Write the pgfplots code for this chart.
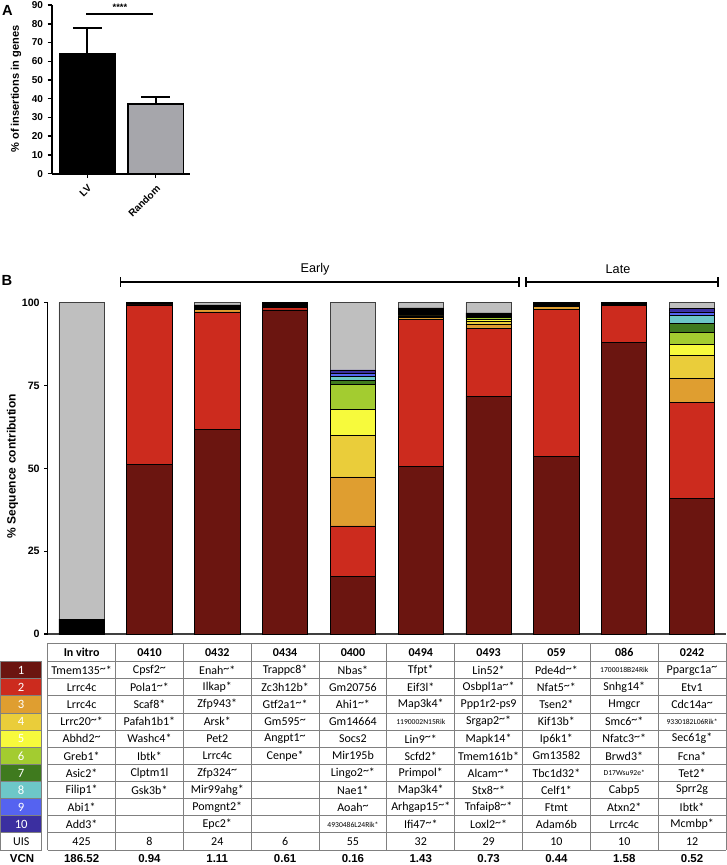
\documentclass[border=0pt]{standalone}
\usepackage{pgfplots}
\pgfplotsset{compat=1.18}
\usepackage{pgfplotstable}
\usepackage{fontspec}
\setmainfont{Liberation Sans}
\newfontfamily\calfont{Carlito}
\newcommand\tl{\raisebox{0.18em}{\textasciitilde}}
\newcommand\sm[1]{{\fontsize{5.7}{6}\selectfont #1}}
\definecolor{c1}{HTML}{6B1510}
\definecolor{c2}{HTML}{CC2B1E}
\definecolor{c3}{HTML}{DF9E30}
\definecolor{c4}{HTML}{EACD3A}
\definecolor{c5}{HTML}{F7FA3C}
\definecolor{c6}{HTML}{A3CC30}
\definecolor{c7}{HTML}{3F7A1E}
\definecolor{c8}{HTML}{6DC7C8}
\definecolor{c9}{HTML}{5563F0}
\definecolor{c10}{HTML}{3B2FA0}
\definecolor{cg}{HTML}{BFBFBF}
\definecolor{rnd}{HTML}{A6A6AB}
\definecolor{tline}{HTML}{808080}
\definecolor{axgray}{HTML}{404040}

\pgfplotstableread{
x s1 s2 s3 s4 s5 s6 s7 s8 s9 s10 k g
0 0 0 0 0 0 0 0 0 0 0 4.5 95.5
1 51.3 48.0 0 0 0 0 0 0 0 0 0.7 0
2 61.8 35.4 0.8 0 0 0 0 0 0 0 1.3 0.7
3 97.8 0.8 0 0 0 0 0 0 0 0 1.4 0
4 17.5 15.1 14.8 12.4 8.0 7.5 1.2 1.2 1.0 1.0 0 20.3
5 50.5 44.5 0.5 0.5 0 0 0 0 0 0 2.4 1.6
6 71.8 20.3 1.2 1.0 0.6 0.6 0 0 0 0 1.4 3.1
7 53.6 44.4 0.8 0 0 0 0 0 0 0 1.2 0
8 88.0 11.1 0 0 0 0 0 0 0 0 0.9 0
9 40.8 29.1 7.1 7.0 3.5 3.5 2.6 2.5 1.1 1.0 0 1.8
}\stacked

\newcommand\tcol[2]{\foreach \t [count=\r] in {#2} \node[font=\calfont\fontsize{9}{10}\selectfont, inner sep=0pt] at ({47.7+67.83*(#1+0.5)},{661.7+17.12*(\r-0.5)}) {\t};}

\begin{document}
\begin{tikzpicture}
% ---------- Panel A ----------
\begin{axis}[
 at={(38.775pt,-130.275pt)}, anchor=south west,
 scale only axis, width=103.7pt, height=126.5pt,
 xmin=-0.52, xmax=1.5, ymin=0, ymax=90, clip=false,
 axis x line=bottom, axis y line=left,
 axis line style={-, line width=1.3pt, black},
 ytick={0,10,...,90}, xtick={0,1}, xticklabels={LV,Random},
 tick align=outside, major tick length=3pt, tick style={line width=1.1pt, black},
 yticklabel style={font=\bfseries\fontsize{7.5}{8}\selectfont},
 xticklabel style={font=\bfseries\fontsize{7.5}{8}\selectfont, rotate=45, anchor=north east},
 /pgf/number format/assume math mode=true,
 ybar, bar width=41.5pt,
]
\addplot[bar shift=0pt, fill=black, draw=black, line width=1.3pt,
 error bars/.cd, y dir=plus, y explicit,
 error bar style={line width=1.2pt, black},
 error mark options={rotate=90, mark size=10.9pt, line width=1.2pt, black}]
 coordinates {(0,64.0) +- (0,13.7)};
\addplot[bar shift=0pt, fill=rnd, draw=black, line width=1.3pt,
 error bars/.cd, y dir=plus, y explicit,
 error bar style={line width=1.2pt, black},
 error mark options={rotate=90, mark size=10.9pt, line width=1.2pt, black}]
 coordinates {(1,37.2) +- (0,3.8)};
\end{axis}
% ---------- Panel B ----------
\begin{axis}[
 at={(35.775pt,-475.5pt)}, anchor=south west,
 scale only axis, width=508.7pt, height=248.5pt,
 xmin=-0.5, xmax=9.5, ymin=0, ymax=100, clip=false,
 axis x line=bottom, axis y line=left,
 x axis line style={-, line width=1.4pt, color=axgray},
 y axis line style={-, line width=1.1pt, black},
 xtick=\empty, ytick={0,25,50,75,100},
 tick align=outside, major tick length=2.5pt, tick style={line width=1pt, black},
 yticklabel style={font=\bfseries\fontsize{8}{9}\selectfont},
 /pgf/number format/assume math mode=true,
 ybar stacked, bar width=34pt,
]
\addplot[fill=c1, draw=black, line width=0.6pt] table[x=x,y=s1]{\stacked};
\addplot[fill=c2, draw=black, line width=0.6pt] table[x=x,y=s2]{\stacked};
\addplot[fill=c3, draw=black, line width=0.6pt] table[x=x,y=s3]{\stacked};
\addplot[fill=c4, draw=black, line width=0.6pt] table[x=x,y=s4]{\stacked};
\addplot[fill=c5, draw=black, line width=0.6pt] table[x=x,y=s5]{\stacked};
\addplot[fill=c6, draw=black, line width=0.6pt] table[x=x,y=s6]{\stacked};
\addplot[fill=c7, draw=black, line width=0.6pt] table[x=x,y=s7]{\stacked};
\addplot[fill=c8, draw=black, line width=0.6pt] table[x=x,y=s8]{\stacked};
\addplot[fill=c9, draw=black, line width=0.6pt] table[x=x,y=s9]{\stacked};
\addplot[fill=c10, draw=black, line width=0.6pt] table[x=x,y=s10]{\stacked};
\addplot[fill=black, draw=black, line width=0.6pt] table[x=x,y=k]{\stacked};
\addplot[fill=cg, draw=axgray, line width=0.6pt] table[x=x,y=g]{\stacked};
\end{axis}

\begin{scope}[x=0.75pt,y=-0.75pt]
% panel labels
\node[font=\bfseries\fontsize{11}{12}\selectfont] at (7.5,10) {A};
\node[font=\bfseries\fontsize{11}{12}\selectfont] at (7,280) {B};
\node[rotate=90, font=\bfseries\fontsize{8.3}{9}\selectfont] at (16,89) {\% of insertions in genes};
\node[rotate=90, font=\bfseries\fontsize{9}{10}\selectfont] at (12.5,466) {\% Sequence contribution};
% significance
\draw[line width=1.2pt] (86,13.7) -- (153,13.7);
\node[font=\bfseries\fontsize{7}{8}\selectfont, inner sep=0pt] at (120,7) {****};
% Early / Late brackets
\draw[line width=1.4pt] (120.5,281.7) -- (519,281.7);
\draw[line width=1.4pt] (120.5,277) -- (120.5,286.5);
\draw[line width=1.4pt] (519,277) -- (519,286.5);
\draw[line width=1.4pt] (526,281.7) -- (717.6,281.7);
\draw[line width=1.4pt] (526,277) -- (526,286.5);
\draw[line width=1.4pt] (717.6,277) -- (717.6,286.5);
\node[font=\fontsize{9.5}{11}\selectfont] at (315,269) {Early};
\node[font=\fontsize{9.5}{11}\selectfont] at (618,269) {Late};
% legend column
\foreach \i/\c in {1/c1,2/c2,3/c3,4/c4,5/c5,6/c6,7/c7,8/c8,9/c9,10/c10} {
  \draw[tline, fill=\c, line width=0.7pt] (0.8,{661.7+17.12*(\i-1)}) rectangle (41.7,{661.7+17.12*\i});
  \node[white, font=\calfont\fontsize{9.5}{10}\selectfont, inner sep=0pt] at (21.2,{661.7+17.12*(\i-0.5)}) {\i};
}
\draw[tline, line width=0.7pt] (0.8,{661.7+17.12*10}) rectangle (41.7,{661.7+17.12*11});
\node[font=\calfont\fontsize{9}{10}\selectfont, inner sep=0pt] at (21.2,{661.7+17.12*10.5}) {UIS};
% table grid
\draw[tline, line width=0.7pt] (47.7,643.3) -- (726,643.3);
\foreach \r in {0,...,11} \draw[tline, line width=0.7pt] (47.7,{661.7+17.12*\r}) -- (726,{661.7+17.12*\r});
\foreach \k in {0,...,10} \draw[tline, line width=0.7pt] ({47.7+67.83*\k},643.3) -- ({47.7+67.83*\k},850);
% headers
\foreach \h [count=\c from 0] in {In vitro,0410,0432,0434,0400,0494,0493,059,086,0242}
  \node[font=\calfont\bfseries\fontsize{9}{10}\selectfont, inner sep=0pt] at ({47.7+67.83*(\c+0.5)},652.5) {\h};
% columns
\tcol{0}{Tmem135\tl*,Lrrc4c,Lrrc4c,Lrrc20\tl*,Abhd2\tl,Greb1*,Asic2*,Filip1*,Abi1*,Add3*,425}
\tcol{1}{Cpsf2\tl,Pola1\tl*,Scaf8*,Pafah1b1*,Washc4*,Ibtk*,Clptm1l,Gsk3b*,{},{},8}
\tcol{2}{Enah\tl*,Ilkap*,Zfp943*,Arsk*,Pet2,Lrrc4c,Zfp324\tl,Mir99ahg*,Pomgnt2*,Epc2*,24}
\tcol{3}{Trappc8*,Zc3h12b*,Gtf2a1\tl*,Gm595\tl,Angpt1\tl,Cenpe*,{},{},{},{},6}
\tcol{4}{Nbas*,Gm20756,Ahi1\tl*,Gm14664,Socs2,Mir195b,Lingo2\tl*,Nae1*,Aoah\tl,\sm{4930486L24Rik*},55}
\tcol{5}{Tfpt*,Eif3l*,Map3k4*,\sm{1190002N15Rik},Lin9\tl*,Scfd2*,Primpol*,Map3k4*,Arhgap15\tl*,Ifi47\tl*,32}
\tcol{6}{Lin52*,Osbpl1a\tl*,Ppp1r2-ps9,Srgap2\tl*,Mapk14*,Tmem161b*,Alcam\tl*,Stx8\tl*,Tnfaip8\tl*,Loxl2\tl*,29}
\tcol{7}{Pde4d\tl*,Nfat5\tl*,Tsen2*,Kif13b*,Ip6k1*,Gm13582,Tbc1d32*,Celf1*,Ftmt,Adam6b,10}
\tcol{8}{\sm{1700018B24Rik},Snhg14*,Hmgcr,Smc6\tl*,Nfatc3\tl*,Brwd3*,\sm{D17Wsu92e*},Cabp5,Atxn2*,Lrrc4c,10}
\tcol{9}{Ppargc1a\tl,Etv1,Cdc14a\tl,\sm{9330182L06Rik*},Sec61g*,Fcna*,Tet2*,Sprr2g,Ibtk*,Mcmbp*,12}
% VCN row
\node[font=\bfseries\fontsize{8.6}{10}\selectfont, inner sep=0pt] at (22,859) {VCN};
\foreach \v [count=\c from 0] in {186.52,0.94,1.11,0.61,0.16,1.43,0.73,0.44,1.58,0.52}
  \node[font=\bfseries\fontsize{8.6}{10}\selectfont, inner sep=0pt] at ({47.7+67.83*(\c+0.5)},859) {\v};
\pgfresetboundingbox
\path[use as bounding box] (0,0) rectangle (727,865);
\end{scope}
\end{tikzpicture}
\end{document}
